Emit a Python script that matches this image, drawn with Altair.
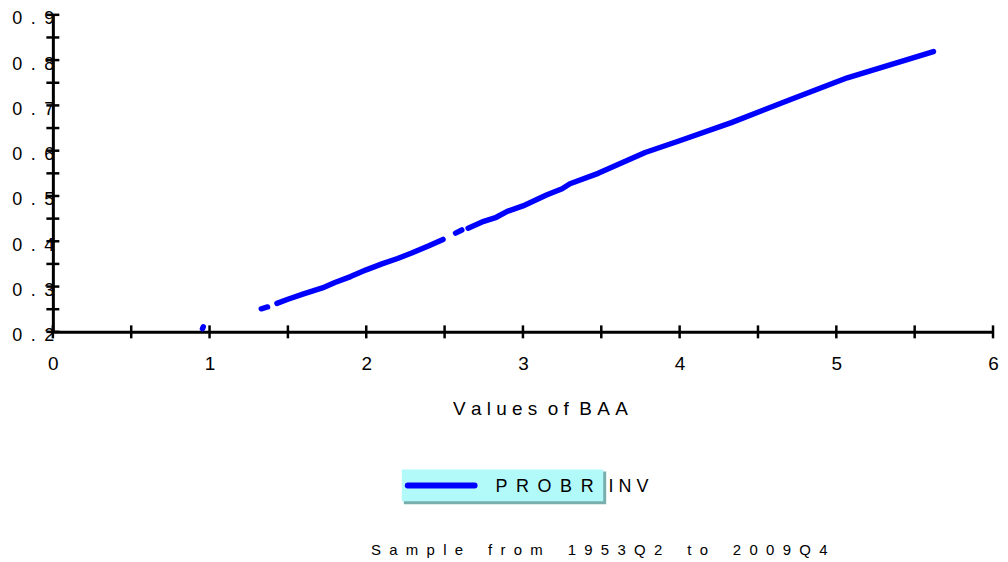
import altair as alt
import pandas as pd

# ---- data ----
baa = [0.955, 0.96,
       1.33, 1.37,
       1.43, 1.5, 1.6, 1.72, 1.8, 1.9, 2.0, 2.1, 2.2, 2.29, 2.4, 2.49,
       2.57, 2.61,
       2.65, 2.75, 2.83, 2.9, 3.0, 3.15, 3.25, 3.3, 3.48, 3.78, 4.0, 4.33, 4.7, 5.07, 5.62]
probr = [0.207, 0.211,
         0.251, 0.255,
         0.263, 0.272, 0.284, 0.297, 0.309, 0.322, 0.337, 0.350, 0.362, 0.374, 0.390, 0.404,
         0.418, 0.425,
         0.429, 0.444, 0.453, 0.466, 0.478, 0.502, 0.516, 0.527, 0.550, 0.596, 0.622, 0.662, 0.712, 0.761, 0.819]
segment = [1, 1,
           2, 2,
           3, 3, 3, 3, 3, 3, 3, 3, 3, 3, 3, 3,
           4, 4,
           5, 5, 5, 5, 5, 5, 5, 5, 5, 5, 5, 5, 5, 5, 5]

x_ticks = [i * 0.5 for i in range(13)]
y_ticks = [0.2 + i * 0.05 for i in range(15)]
x_labels = [0, 1, 2, 3, 4, 5, 6]
y_labels = [0.2, 0.3, 0.4, 0.5, 0.6, 0.7, 0.8, 0.9]

series_name = "PROBRINV"
x_title = "Values of BAA"
footer = "Sample from 1953Q2 to 2009Q4"

FONT = "Liberation Sans"
W, H = 943, 318
NB = "\u00a0"
TH = "\u2009"


def spaced(s, gap, word_gap):
    words = s.split(" ")
    return word_gap.join(gap.join(w) for w in words)


# the legend box cuts the label after 5 letters; the part outside is tighter
legend_label = (NB + TH).join(series_name[:5]) + NB * 3 + NB.join(series_name[5:])

df = pd.DataFrame({"baa": baa, "probr": probr, "seg": segment})
xs = alt.Scale(domain=[0, 6], nice=False, zero=False)
ys = alt.Scale(domain=[0.2, 0.9], nice=False, zero=False)

x_axis = alt.Axis(
    values=x_labels, format="d", ticks=False, domain=True, domainColor="black",
    domainWidth=3, labelFont=FONT, labelFontSize=19, labelColor="black",
    labelPadding=23, labelFlush=False, labelOverlap=False, grid=False, title=None)
y_axis = alt.Axis(
    values=y_labels, ticks=False, domain=True, domainColor="black", domainWidth=3,
    labelExpr="join(split(format(datum.value, '.1f'), ''), '\u00a0\u2009')",
    labelFont=FONT, labelFontSize=18, labelColor="black", labelPadding=-1,
    labelOffset=4, labelBaseline="middle", labelFlush=False, labelOverlap=False,
    grid=False, title=None)

line = alt.Chart(df).mark_line(
    color="#0000FF", strokeWidth=5.5, strokeCap="round", strokeJoin="round", clip=False
).encode(
    x=alt.X("baa:Q", scale=xs, axis=x_axis),
    y=alt.Y("probr:Q", scale=ys, axis=y_axis),
    detail="seg:N",
)

xt = alt.Chart(pd.DataFrame({"v": x_ticks})).mark_tick(
    color="black", thickness=2.5, size=13, orient="vertical", opacity=1
).encode(x=alt.X("v:Q", scale=xs, axis=x_axis), y=alt.value(H))

yt = alt.Chart(pd.DataFrame({"v": y_ticks})).mark_tick(
    color="black", thickness=2.5, size=13, orient="horizontal", opacity=1
).encode(y=alt.Y("v:Q", scale=ys, axis=y_axis), x=alt.value(0))

# legend box (decoration)
leg_shadow = alt.Chart(pd.DataFrame({"a": [0]})).mark_rect(color="#78AEAE").encode(
    x=alt.value(352), x2=alt.value(555), y=alt.value(458), y2=alt.value(491))
leg_box = alt.Chart(pd.DataFrame({"a": [0]})).mark_rect(color="#B2FAFA").encode(
    x=alt.value(350), x2=alt.value(552), y=alt.value(456), y2=alt.value(488))
leg_line = alt.Chart(pd.DataFrame({"a": [0]})).mark_rule(
    color="#0000FF", strokeWidth=6, strokeCap="round").encode(
    x=alt.value(356), x2=alt.value(423), y=alt.value(472))
leg_text = alt.Chart(pd.DataFrame({"t": [legend_label]})).mark_text(
    font=FONT, fontSize=18, align="left", baseline="middle", color="black"
).encode(x=alt.value(444), y=alt.value(474), text="t:N")

xtitle = alt.Chart(pd.DataFrame({"t": [spaced(x_title, NB, NB * 2)]})).mark_text(
    font=FONT, fontSize=19, align="center", baseline="middle", color="black"
).encode(x=alt.value(489), y=alt.value(395), text="t:N")

foot = alt.Chart(pd.DataFrame({"t": [spaced(footer, NB * 2, NB * 6)]})).mark_text(
    font=FONT, fontSize=15, align="center", baseline="middle", color="black"
).encode(x=alt.value(548), y=alt.value(537), text="t:N")

chart = alt.layer(
    line, xt, yt, leg_shadow, leg_box, leg_line, leg_text, xtitle, foot
).properties(
    width=W, height=H,
    background="white",
    autosize=alt.AutoSizeParams(type="none"),
    padding={"left": 45, "top": 6, "right": 7, "bottom": 230},
).configure_view(strokeWidth=0, stroke="transparent").configure_axis(grid=False)

chart.save("out.html", embed_options={"renderer": "svg", "actions": False})
